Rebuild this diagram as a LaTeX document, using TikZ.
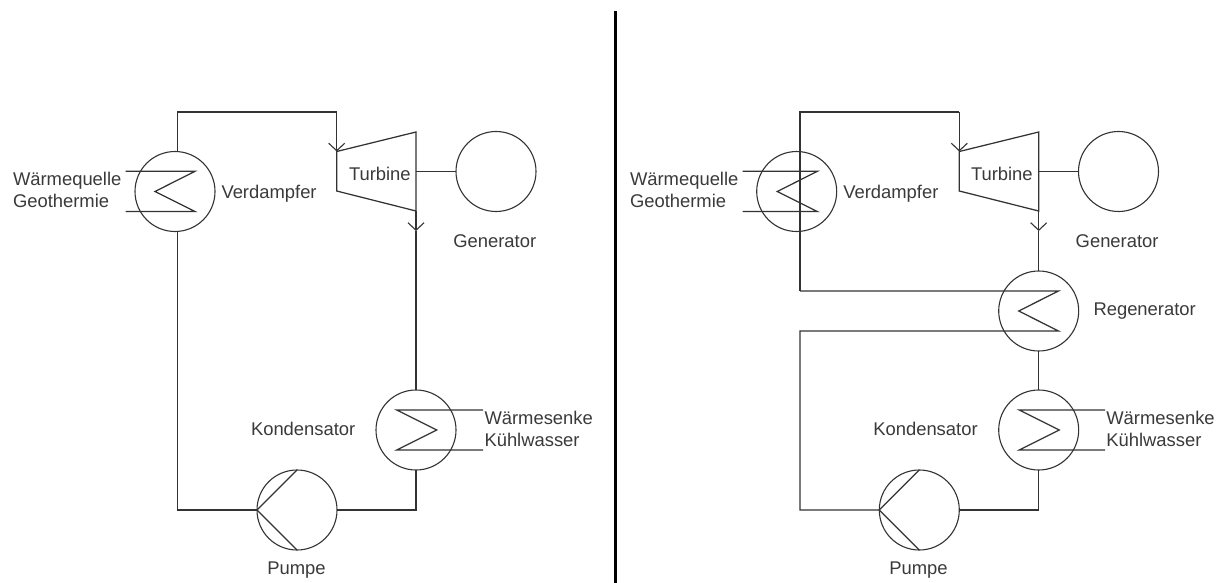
\documentclass[tikz,border=0pt]{standalone}
\usepackage{fontspec}
\setmainfont{Liberation Sans}
\usetikzlibrary{arrows.meta}
\definecolor{ink}{HTML}{333333}
\definecolor{inktext}{HTML}{3A3A3A}
\tikzset{
  unit/.style={draw=ink,circle,line width=1.1pt,minimum size=80pt,inner sep=0pt,outer sep=0pt},
  pipe/.style={draw=ink,line width=1.25pt,line join=miter},
  thin pipe/.style={draw=ink,line width=1.25pt,line join=miter},
  flowtip/.style={pipe,-{Straight Barb[length=7.5pt,width=16pt,line width=1.1pt]}},
  lab/.style={anchor=base west,inner sep=0pt,outer sep=0pt,text=inktext,font=\fontsize{18.4}{22}\selectfont},
  divider/.style={draw=black,line width=3pt}
}
\begin{document}
\begin{tikzpicture}[x=1pt,y=-1pt]
\useasboundingbox (0,0) rectangle (1224,583);
\fill[white] (0,0) rectangle (1224,583);

% ---- divider
\coordinate (dTop) at (615.5,11);
\coordinate (dBot) at (615.5,583);
\draw[divider] (dTop) -- (dBot);

% ---- left plant
\node[unit] (lV) at (175,191.5) {};
\node[unit] (lG) at (496,171.5) {};
\node[unit] (lK) at (416,430) {};
\node[unit] (lP) at (297,510) {};
\coordinate (lVt) at (177.5,151.5);
\coordinate (lVb) at (177.5,231.5);
\coordinate (lC1) at (336.7,112);
\coordinate (lC2) at (177.5,510);
\coordinate (lC3) at (416,510);
\coordinate (lTa) at (336.7,151.5);
\coordinate (lTb) at (416,132);
\coordinate (lTc) at (416,211);
\coordinate (lTd) at (336.7,191);
\coordinate (lTs) at (416,171.5);
\coordinate (lOut) at (416,231);
\draw[thin pipe] (lTa) -- (lTb) -- (lTc) -- (lTd) -- cycle;
\draw[pipe] (lVt) |- (lC1);
\draw[flowtip] (lC1) -- (lTa);
\draw[flowtip] (lTc) -- (lOut);
\draw[pipe] (lOut) -- (lK.north);
\draw[pipe] (lTs) -- (lG.west);
\draw[pipe] (lVb) -- (lC2) -- (lP.west);
\draw[pipe] (lP.east) -- (lC3) -- (lK.south);
% coils
\coordinate (lVc1) at (125.7,171.3);
\coordinate (lVc2) at (195,171.3);
\coordinate (lVc3) at (155,191.5);
\coordinate (lVc4) at (195,211.5);
\coordinate (lVc5) at (125.7,211.5);
\draw[thin pipe] (lVc1) -- (lVc2) -- (lVc3) -- (lVc4) -- (lVc5);
\coordinate (lKc1) at (483,410);
\coordinate (lKc2) at (396.7,410);
\coordinate (lKc3) at (436.7,430);
\coordinate (lKc4) at (396.7,450);
\coordinate (lKc5) at (483,450);
\draw[thin pipe] (lKc1) -- (lKc2) -- (lKc3) -- (lKc4) -- (lKc5);
\coordinate (lPa) at (297,470);
\coordinate (lPb) at (297,550);
\draw[thin pipe] (lPa) -- (lP.west) -- (lPb);
% labels
\node[lab] (t1) at (13,185.7) {Wärmequelle};
\node[lab] (t2) at (13,207.7) {Geothermie};
\node[lab] (t3) at (221.5,199) {Verdampfer};
\node[lab] (t4) at (349,181) {Turbine};
\node[lab] (t5) at (453.3,247) {Generator};
\node[lab] (t6) at (251,435.7) {Kondensator};
\node[lab] (t7) at (267.3,574) {Pumpe};
\node[lab] (t8) at (484.5,424) {Wärmesenke};
\node[lab] (t9) at (484.5,446) {Kühlwasser};

% ---- right plant
\node[unit] (rV) at (796.7,191.5) {};
\node[unit] (rG) at (1118.5,171.5) {};
\node[unit] (rR) at (1038.7,311) {};
\node[unit] (rK) at (1038.7,430) {};
\node[unit] (rP) at (919.3,510) {};
\coordinate (rC0) at (800,112);
\coordinate (rC1) at (959.3,112);
\coordinate (rC4) at (800,291);
\coordinate (rC5) at (800,331);
\coordinate (rC2) at (800,510);
\coordinate (rC3) at (1038.7,510);
\coordinate (rTa) at (959.3,151.5);
\coordinate (rTb) at (1038.7,132);
\coordinate (rTc) at (1038.7,211);
\coordinate (rTd) at (959.3,191);
\coordinate (rTs) at (1038.7,171.5);
\coordinate (rOut) at (1038.7,231);
\draw[thin pipe] (rTa) -- (rTb) -- (rTc) -- (rTd) -- cycle;
\draw[pipe] (rC4) -- (rC0) -- (rC1);
\draw[flowtip] (rC1) -- (rTa);
\draw[flowtip] (rTc) -- (rOut);
\draw[pipe] (rOut) -- (rR.north);
\draw[pipe] (rTs) -- (rG.west);
\draw[pipe] (rR.south) -- (rK.north);
\coordinate (rRc1) at (1058.5,291);
\coordinate (rRc2) at (1018.7,311);
\coordinate (rRc3) at (1058.5,331);
\draw[pipe] (rC4) -- (rRc1) -- (rRc2) -- (rRc3) -- (rC5) -- (rC2) -- (rP.west);
\draw[pipe] (rP.east) -- (rC3) -- (rK.south);
\coordinate (rVc1) at (742.7,171.3);
\coordinate (rVc2) at (817.3,171.3);
\coordinate (rVc3) at (777.3,191.5);
\coordinate (rVc4) at (817.3,211.5);
\coordinate (rVc5) at (742.7,211.5);
\draw[thin pipe] (rVc1) -- (rVc2) -- (rVc3) -- (rVc4) -- (rVc5);
\coordinate (rKc1) at (1105,410);
\coordinate (rKc2) at (1019.3,410);
\coordinate (rKc3) at (1059.3,430);
\coordinate (rKc4) at (1019.3,450);
\coordinate (rKc5) at (1105,450);
\draw[thin pipe] (rKc1) -- (rKc2) -- (rKc3) -- (rKc4) -- (rKc5);
\coordinate (rPa) at (919.3,470);
\coordinate (rPb) at (919.3,550);
\draw[thin pipe] (rPa) -- (rP.west) -- (rPb);
% labels
\node[lab] (u1) at (630,185.7) {Wärmequelle};
\node[lab] (u2) at (630,207.7) {Geothermie};
\node[lab] (u3) at (843.3,199) {Verdampfer};
\node[lab] (u4) at (971,181) {Turbine};
\node[lab] (u5) at (1075.7,247) {Generator};
\node[lab] (u6) at (873.3,435.7) {Kondensator};
\node[lab] (u7) at (889.3,574) {Pumpe};
\node[lab] (u8) at (1106.3,424) {Wärmesenke};
\node[lab] (u9) at (1106.3,446) {Kühlwasser};
\node[lab] (u10) at (1093.5,315.7) {Regenerator};
\end{tikzpicture}
\end{document}
